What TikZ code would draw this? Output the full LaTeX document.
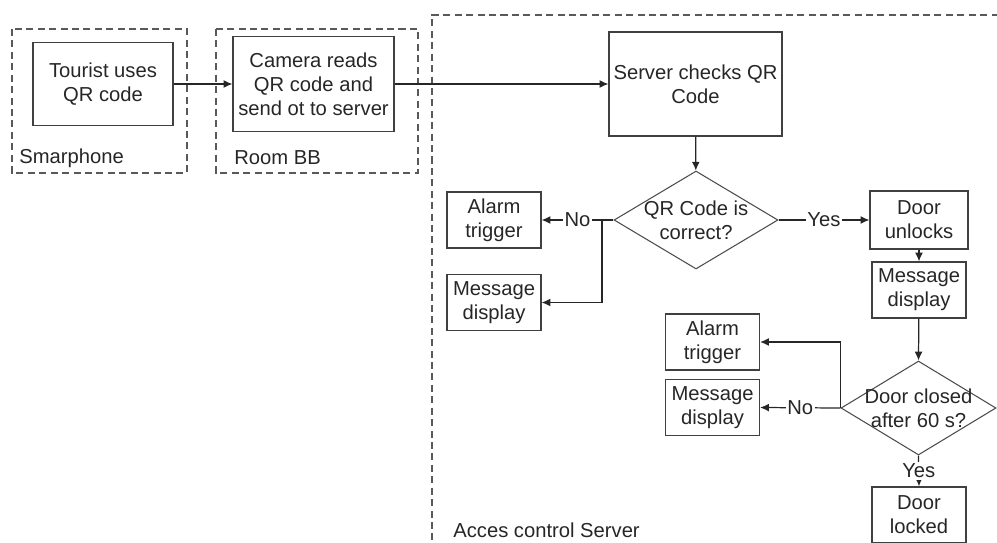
\documentclass[tikz,border=0pt]{standalone}
\usepackage{fontspec}
\setmainfont{Liberation Sans}
\usepackage{tikz}
\usetikzlibrary{shapes.geometric,arrows.meta}

\begin{document}
\begin{tikzpicture}[x=0.02cm, y=0.02cm, font=\fontsize{11.5}{13.7}\selectfont]
    \tikzstyle{every node}+=[inner sep=0pt, text=black!85]
    \tikzstyle{box}=[draw=black!75, line width=0.7pt, align=center, minimum width=1.88cm, minimum height=1.12cm]
    \tikzstyle{decision}=[draw=black!70, line width=0.6pt, diamond, minimum width=3.28cm, minimum height=1.96cm]
    \tikzstyle{flow}=[draw=black!85, line width=0.7pt, -{Latex[length=5pt,width=4.5pt]}]
    \tikzstyle{container}=[draw=black!65, line width=0.6pt, dash pattern=on 4pt off 2.5pt]
    \tikzstyle{answer}=[fill=white, inner sep=1pt]
    \useasboundingbox (0,0) rectangle (997,-542);
    % zones
    \draw [container] (12,-29) rectangle (187,-173);
    \node [anchor=west] (smartlbl) at (19,-158) {Smarphone};
    \draw [container] (216,-29) rectangle (418,-173);
    \node [anchor=west] (roomlbl) at (234,-158) {Room BB};
    \draw [container] (1010,-15) -- (432,-15) -- (432,-560);
    \node [anchor=west] (serverlbl) at (453,-530) {Acces control Server};
    % steps
    \node [box, minimum width=2.8cm, minimum height=1.66cm] (tourist) at (103,-84) {Tourist uses\\QR code};
    \node [box, minimum width=3.22cm, minimum height=1.9cm] (camera) at (313.5,-84) {Camera reads\\QR code and\\send ot to server};
    \node [box, minimum width=3.46cm, minimum height=2.08cm] (checks) at (695.5,-84) {Server checks QR\\Code};
    \node [decision] (qrok) at (696,-220) {};
    \node [align=center] (qroktxt) at (qrok) {QR Code is\\correct?};
    \node [box] (alarm1) at (494,-220) {Alarm\\trigger};
    \node [box] (msg1) at (494,-302.5) {Message\\display};
    \node [box, minimum width=1.96cm, minimum height=1.16cm] (unlock) at (919,-220) {Door\\unlocks};
    \node [box] (msg2) at (919,-290) {Message\\display};
    \node [box] (alarm2) at (712.5,-342) {Alarm\\trigger};
    \node [box] (msg3) at (712.5,-407.5) {Message\\display};
    \node [decision, minimum width=3.1cm, minimum height=1.88cm] (closed) at (918.5,-408) {};
    \node [align=center] (closedtxt) at (closed) {Door closed\\after 60 s?};
    \node [box] (locked) at (919,-515) {Door\\locked};
    \coordinate (split1) at (602,-220);
    % arrows
    \draw [flow] (tourist) -- (camera);
    \draw [flow] (camera) -- (checks);
    \draw [flow] (checks) -- (qrok);
    \draw [flow] (qrok.west) -- node [answer] (no1) {No} (alarm1.east);
    \draw [flow] (split1) |- (msg1.east);
    \draw [flow] (qrok.east) -- node [answer] (yes1) {Yes} (unlock.west);
    \draw [flow] (unlock) -- (msg2);
    \draw [flow] (msg2) -- (closed.north);
    \draw [flow] (closed.west) -- node [answer] (no2) {No} (msg3.east);
    \draw [flow] (closed.west) |- (alarm2.east);
    \draw [flow] (closed.south) -- node [answer] (yes2) {Yes} (locked.north);
\end{tikzpicture}
\end{document}
